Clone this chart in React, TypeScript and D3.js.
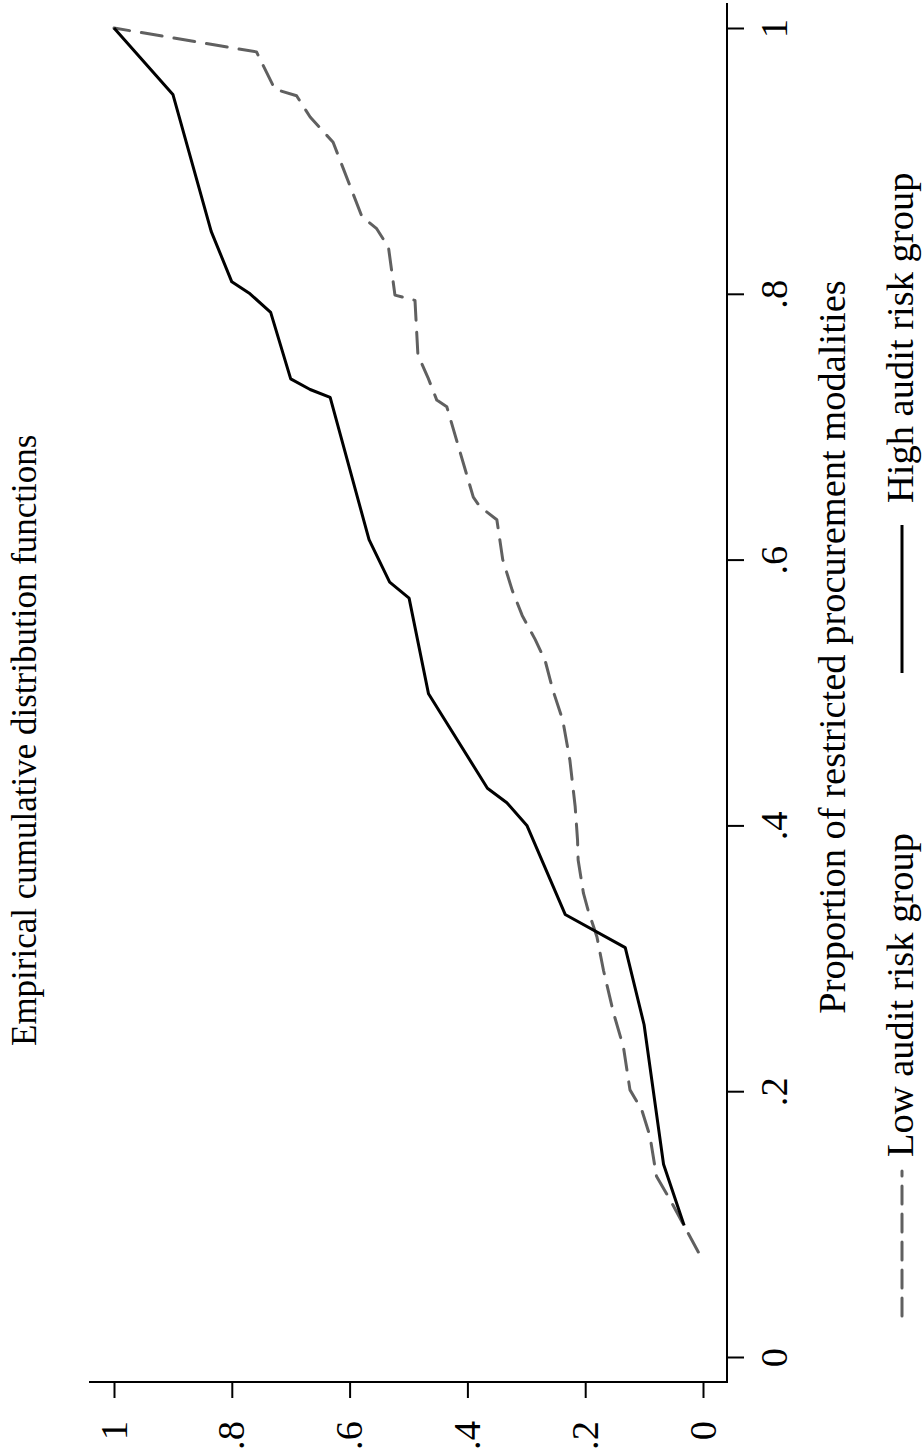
import { useEffect, useRef } from 'react';
import * as d3 from 'd3';

// x = proportion of restricted procurement modalities, y = ECDF value
const highProp = [0.099, 0.145, 0.250, 0.308, 0.333, 0.400, 0.417, 0.428, 0.499, 0.571, 0.583, 0.615, 0.722, 0.728, 0.736, 0.786, 0.800, 0.809, 0.847, 0.950, 1.000];
const highCdf  = [0.032, 0.067, 0.100, 0.132, 0.234, 0.299, 0.333, 0.366, 0.466, 0.499, 0.532, 0.567, 0.633, 0.667, 0.700, 0.734, 0.769, 0.800, 0.835, 0.900, 1.000];

const lowProp = [0.079, 0.116, 0.136, 0.166, 0.186, 0.201, 0.233, 0.259, 0.291, 0.316, 0.336, 0.349, 0.374, 0.389, 0.414, 0.449, 0.479, 0.502, 0.524, 0.540, 0.558, 0.577, 0.600, 0.630, 0.640, 0.647, 0.715, 0.720, 0.737, 0.754, 0.795, 0.799, 0.835, 0.849, 0.858, 0.914, 0.933, 0.949, 0.954, 0.982, 1.000];
const lowCdf  = [0.008, 0.053, 0.079, 0.090, 0.104, 0.124, 0.135, 0.152, 0.169, 0.180, 0.195, 0.203, 0.212, 0.213, 0.217, 0.226, 0.238, 0.255, 0.268, 0.285, 0.307, 0.324, 0.340, 0.350, 0.379, 0.390, 0.435, 0.452, 0.467, 0.484, 0.489, 0.523, 0.534, 0.554, 0.579, 0.628, 0.667, 0.690, 0.727, 0.758, 1.000];

const ticks = [0, 0.2, 0.4, 0.6, 0.8, 1];
const tickLabels = ['0', '.2', '.4', '.6', '.8', '1'];

const W = 924;
const H = 1454;
const FONT = '"Liberation Serif", "Times New Roman", serif';
const GREY = '#606060';

export default function App() {
  const svgRef = useRef<SVGSVGElement>(null);

  useEffect(() => {
    if (!svgRef.current) return;
    const svg = d3.select(svgRef.current);
    svg.selectAll('*').remove();

    // the Stata graph is turned a quarter turn: proportion runs up, the ECDF runs right-to-left
    const prop = d3.scaleLinear().domain([0, 1]).range([1357, 28]);
    const cdf  = d3.scaleLinear().domain([0, 1]).range([703, 114]);
    const fmt = (d: d3.NumberValue) => tickLabels[ticks.indexOf(+d)];

    const axisX = 727;
    const axisY = 1382;

    // proportion axis (right)
    const gr = svg.append('g').attr('transform', `translate(${axisX},0)`)
      .call(d3.axisRight(prop).tickValues(ticks).tickSize(17).tickFormat(fmt));
    gr.select('.domain').remove();
    gr.selectAll('line').attr('stroke', '#000').attr('stroke-width', 2);
    gr.selectAll('text')
      .attr('x', null).attr('dy', null)
      .attr('transform', 'translate(60,0) rotate(-90)')
      .attr('text-anchor', 'middle')
      .attr('fill', '#000');
    gr.attr('font-family', FONT).attr('font-size', 38.5);

    // ECDF axis (bottom)
    const gb = svg.append('g').attr('transform', `translate(0,${axisY})`)
      .call(d3.axisBottom(cdf).tickValues(ticks).tickSize(16).tickFormat(fmt));
    gb.select('.domain').remove();
    gb.selectAll('line').attr('stroke', '#000').attr('stroke-width', 2);
    gb.selectAll('text')
      .attr('y', null).attr('dy', null)
      .attr('transform', 'translate(12,39) rotate(-90)')
      .attr('text-anchor', 'end')
      .attr('fill', '#000');
    gb.attr('font-family', FONT).attr('font-size', 38.5);

    // axis lines
    svg.append('line')
      .attr('x1', axisX).attr('x2', axisX).attr('y1', 3).attr('y2', axisY + 1)
      .attr('stroke', '#000').attr('stroke-width', 2);
    svg.append('line')
      .attr('x1', 89).attr('x2', axisX + 1).attr('y1', axisY).attr('y2', axisY)
      .attr('stroke', '#000').attr('stroke-width', 2);

    const line = d3.line<[number, number]>()
      .x(d => cdf(d[1]))
      .y(d => prop(d[0]));

    const low: [number, number][] = lowProp.map((p, i) => [p, lowCdf[i]]);
    const high: [number, number][] = highProp.map((p, i) => [p, highCdf[i]]);

    svg.append('path')
      .attr('d', line(low))
      .attr('fill', 'none')
      .attr('stroke', GREY).attr('stroke-width', 3)
      .attr('stroke-dasharray', '21 12')
      .attr('stroke-linecap', 'round')
      .attr('stroke-linejoin', 'round');

    svg.append('path')
      .attr('d', line(high))
      .attr('fill', 'none')
      .attr('stroke', '#000').attr('stroke-width', 3)
      .attr('stroke-linejoin', 'round');

    const rotText = (x: number, y: number, txt: string, size: number, anchor: string) =>
      svg.append('text')
        .attr('transform', `translate(${x},${y}) rotate(-90)`)
        .attr('text-anchor', anchor)
        .attr('font-family', FONT).attr('font-size', size)
        .attr('fill', '#000')
        .text(txt);

    rotText(36, 1046, 'Empirical cumulative distribution functions', 35, 'start');
    rotText(845, 647, 'Proportion of restricted procurement modalities', 38.5, 'middle');

    // legend
    svg.append('line')
      .attr('x1', 902).attr('x2', 902).attr('y1', 1316).attr('y2', 1171)
      .attr('stroke', GREY).attr('stroke-width', 3)
      .attr('stroke-dasharray', '18 10')
      .attr('stroke-linecap', 'round');
    rotText(913, 1157, 'Low audit risk group', 38.5, 'start');

    svg.append('line')
      .attr('x1', 902).attr('x2', 902).attr('y1', 673).attr('y2', 525)
      .attr('stroke', '#000').attr('stroke-width', 3);
    rotText(913, 503, 'High audit risk group', 38.5, 'start');
  }, []);

  return (
    <div style={{ position: 'absolute', left: 0, top: 0, width: W, height: H, background: '#fff' }}>
      <svg ref={svgRef} width={W} height={H} style={{ display: 'block' }} />
    </div>
  );
}
